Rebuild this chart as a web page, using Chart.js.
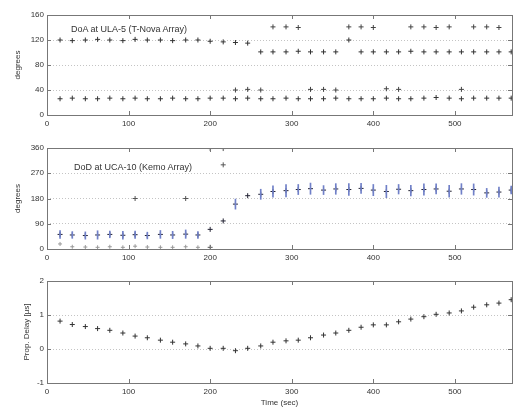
<!DOCTYPE html>
<html>
<head>
<meta charset="utf-8">
<script src="https://cdn.jsdelivr.net/npm/chart.js@4"></script>
<style>
  body { margin: 0; background: #fff; }
  #wrap { position: relative; width: 517px; height: 410px; font-family: "Liberation Sans", Arial, sans-serif; }
  canvas { position: absolute; left: 0; }
  .lbl { position: absolute; font-size: 9px; color: #333; white-space: nowrap; }
</style>
</head>
<body>
<div id="wrap">
  <canvas id="c1" width="517" height="132" style="top:0"></canvas>
  <canvas id="c2" width="517" height="133" style="top:133px"></canvas>
  <canvas id="c3" width="517" height="144" style="top:266px"></canvas>
  <div class="lbl" style="left:71px;top:24px">DoA at ULA-5 (T-Nova Array)</div>
  <div class="lbl" style="left:74px;top:162px">DoD at UCA-10 (Kemo Array)</div>
</div>
<script>
// time stamps (sec)
const times = [16, 31, 47, 62, 77, 93, 108, 123, 139, 154, 170, 185, 200, 216, 231, 246, 262, 277, 293,
               308, 323, 339, 354, 370, 385, 400, 416, 431, 446, 462, 477, 493, 508, 523, 539, 554, 569];

// panel 1: DoA (degrees)
const doaMain = [120, 119, 120, 121, 120, 119, 121, 120, 120, 119, 120, 120, 118, 117, 116, 115,
                 101, 101, 101, 102, 101, 101, 101, 120, 101, 101, 101, 101, 102, 101, 101, 101, 101, 101, 101, 101, 101];
const doaLow = [26, 27, 26, 26, 27, 26, 27, 26, 26, 27, 26, 26, 27, 27, 26, 27, 26, 26, 27,
                26, 26, 26, 27, 26, 26, 26, 27, 26, 26, 27, 28, 27, 26, 27, 27, 27, 27];
const doaHighTimes = [277, 293, 308, 370, 385, 400, 446, 462, 477, 493, 523, 539, 554];
const doaHighValues = [141, 141, 140, 141, 141, 140, 141, 141, 140, 141, 141, 141, 140];
const doaMidTimes = [231, 246, 262, 323, 339, 354, 416, 431, 508];
const doaMidValues = [40, 41, 40, 41, 41, 40, 42, 41, 41];

// panel 2: DoD (degrees) with error bars
const dodMean = [52, 50, 48, 50, 52, 49, 51, 48, 52, 50, 53, 50, 70, 100, 160, 190,
                 195, 205, 208, 212, 215, 210, 214, 212, 216, 210, 205, 213, 208, 212, 214, 206, 214, 212, 200, 203, 210];
const dodErr = [14, 12, 13, 15, 12, 14, 13, 12, 14, 13, 15, 12, 0, 0, 18, 0,
                18, 20, 22, 18, 20, 16, 19, 21, 18, 20, 22, 17, 19, 20, 18, 21, 19, 20, 16, 18, 14];
const dodLowTimes = [16, 31, 47, 62, 77, 93, 108, 123, 139, 154, 170, 185];
const dodLowValues = [18, 8, 7, 6, 8, 6, 10, 7, 6, 6, 8, 6];
const dodOutTimes = [108, 170, 200, 200, 216, 216];
const dodOutValues = [180, 180, 358, 6, 358, 300];

// panel 3: propagation delay (us)
const delay = [0.82, 0.72, 0.66, 0.6, 0.55, 0.47, 0.38, 0.33, 0.26, 0.2, 0.15, 0.09, 0.02, 0.02, -0.05, 0.02,
               0.09, 0.2, 0.24, 0.26, 0.33, 0.41, 0.47, 0.55, 0.64, 0.71, 0.71, 0.8, 0.88, 0.95, 1.02, 1.06, 1.12, 1.23, 1.3, 1.35, 1.45];

const xTicks = [0, 100, 200, 300, 400, 500];

Chart.defaults.font.family = '"Liberation Sans", Arial, sans-serif';
Chart.defaults.font.size = 8;
Chart.defaults.color = '#333';

function pts(xs, ys) {
  return xs.map((x, i) => ({ x: x, y: ys[i] }));
}

// MATLAB style box with inward ticks
const boxPlugin = {
  id: 'box',
  afterDraw(chart) {
    const ctx = chart.ctx, a = chart.chartArea;
    const xs = chart.scales.x, ys = chart.scales.y;
    ctx.save();
    ctx.strokeStyle = '#777';
    ctx.lineWidth = 1;
    ctx.strokeRect(a.left + 0.5, a.top + 0.5, a.right - a.left, a.bottom - a.top);
    ctx.beginPath();
    xs.ticks.forEach(t => {
      const px = Math.round(xs.getPixelForValue(t.value)) + 0.5;
      ctx.moveTo(px, a.bottom); ctx.lineTo(px, a.bottom - 4);
      ctx.moveTo(px, a.top); ctx.lineTo(px, a.top + 4);
    });
    ys.ticks.forEach(t => {
      const py = Math.round(ys.getPixelForValue(t.value)) + 0.5;
      ctx.moveTo(a.left, py); ctx.lineTo(a.left + 4, py);
      ctx.moveTo(a.right, py); ctx.lineTo(a.right - 4, py);
    });
    ctx.stroke();
    ctx.restore();
  }
};

function makeOptions(ymin, ymax, ystep, ytitle, xHeight, xTitle, padLeft) {
  return {
    responsive: false,
    animation: false,
    layout: { padding: { top: 15, right: 5, left: padLeft, bottom: xTitle ? 2 : 0 } },
    plugins: { legend: { display: false }, tooltip: { enabled: false } },
    scales: {
      x: {
        type: 'linear', min: 0, max: 570, offset: false,
        afterBuildTicks: s => { s.ticks = xTicks.map(v => ({ value: v })); },
        afterFit: s => { s.height = xHeight; },
        grid: { display: false, drawTicks: false, offset: false },
        border: { display: false },
        ticks: { padding: 4, maxRotation: 0, includeBounds: false },
        title: { display: !!xTitle, text: xTitle, padding: 0, font: { size: 8 } }
      },
      y: {
        min: ymin, max: ymax,
        afterFit: s => { s.width = 47 - padLeft; },
        ticks: { stepSize: ystep, padding: 3 },
        grid: { color: '#c4c4c4', drawTicks: false },
        border: { display: false, dash: [1, 2] },
        title: { display: true, text: ytitle, padding: 0, font: { size: 8 } }
      }
    }
  };
}

const plus = (color) => ({
  type: 'scatter', pointStyle: 'cross', pointRadius: 2.5, borderWidth: 1,
  borderColor: color, backgroundColor: color
});

new Chart(document.getElementById('c1'), {
  type: 'scatter',
  data: {
    datasets: [
      Object.assign(plus('#333'), { data: pts(times, doaMain) }),
      Object.assign(plus('#333'), { data: pts(times, doaLow) }),
      Object.assign(plus('#444'), { data: pts(doaHighTimes, doaHighValues) }),
      Object.assign(plus('#444'), { data: pts(doaMidTimes, doaMidValues) })
    ]
  },
  options: makeOptions(0, 160, 40, 'degrees', 17, '', 13),
  plugins: [boxPlugin]
});

const dodBars = times.map((t, i) => ({ x: t, y: dodErr[i] > 0 ? [dodMean[i] - dodErr[i], dodMean[i] + dodErr[i]] : null }));

new Chart(document.getElementById('c2'), {
  type: 'scatter',
  data: {
    datasets: [
      { type: 'bar', data: dodBars, barThickness: 1, grouped: false, backgroundColor: '#7080c8', borderWidth: 0 },
      Object.assign(plus('#223'), { data: pts(times, dodMean) }),
      Object.assign(plus('#999'), { data: pts(dodLowTimes, dodLowValues), pointRadius: 2 }),
      Object.assign(plus('#555'), { data: pts(dodOutTimes, dodOutValues) })
    ]
  },
  options: makeOptions(0, 360, 90, 'degrees', 17, '', 13),
  plugins: [boxPlugin]
});

new Chart(document.getElementById('c3'), {
  type: 'scatter',
  data: {
    datasets: [
      Object.assign(plus('#333'), { data: pts(times, delay) })
    ]
  },
  options: makeOptions(-1, 2, 1, 'Prop. Delay [\u03bcs]', 25, 'Time (sec)', 22),
  plugins: [boxPlugin]
});
</script>
</body>
</html>
